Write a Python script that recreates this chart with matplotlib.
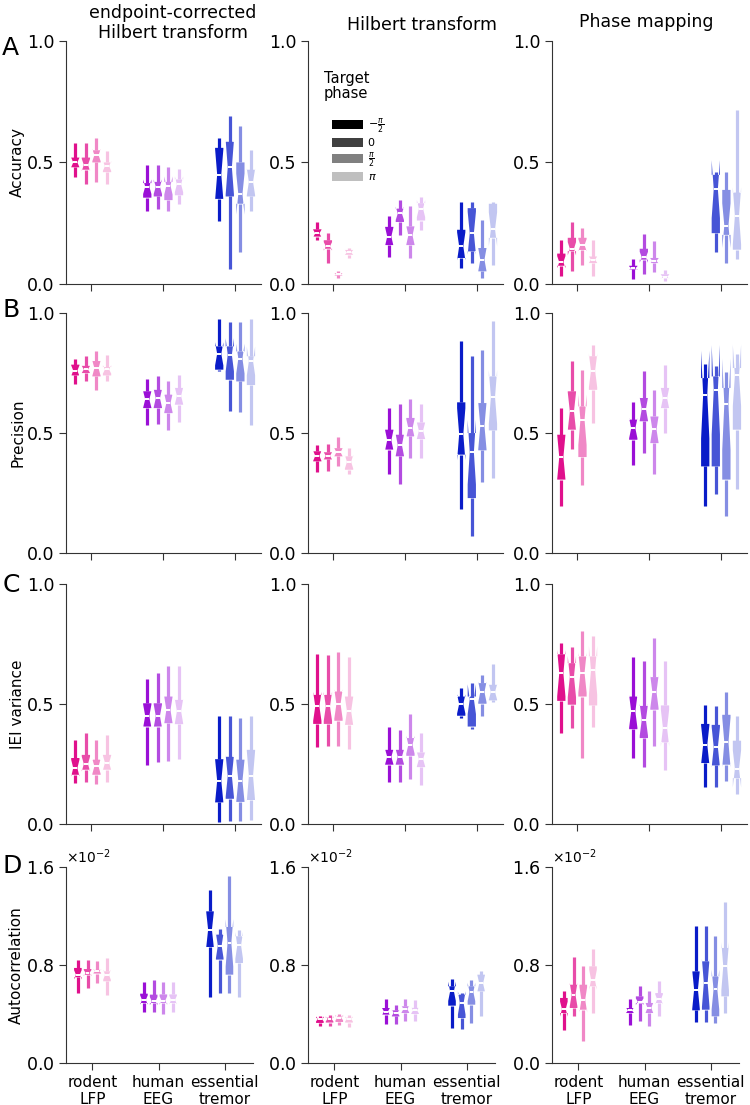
import numpy as np
import matplotlib
matplotlib.use("Agg")
import matplotlib.pyplot as plt
from matplotlib.patches import Patch
from matplotlib.ticker import ScalarFormatter

methods = ["endpoint-corrected\nHilbert transform", "Hilbert transform", "Phase mapping"]
metrics = ["Accuracy", "Precision", "IEI variance", "Autocorrelation"]
datasets = ["rodent\nLFP", "human\nEEG", "essential\ntremor"]
phase_labels = [r"$-\frac{\pi}{2}$", "0", r"$\frac{\pi}{2}$", r"$\pi$"]
base_colors = ["#E0108C", "#9A0FD6", "#0A1CC8"]
n_sessions = [10, 10, 10]   # sets the notch size (1.57 * IQR / sqrt(n))

# each row: whislo, q1, median, q3, whishi
# rows: rodent LFP x4 phases, human EEG x4, essential tremor x4 (None = no data)
acc_echt = [
    [0.44, 0.48, 0.50, 0.52, 0.58], [0.41, 0.47, 0.49, 0.52, 0.58],
    [0.42, 0.50, 0.53, 0.55, 0.60], [0.41, 0.46, 0.485, 0.50, 0.545],
    [0.30, 0.355, 0.40, 0.415, 0.49], [0.31, 0.36, 0.40, 0.42, 0.49],
    [0.30, 0.345, 0.405, 0.42, 0.48], [0.33, 0.365, 0.41, 0.43, 0.475],
    [0.26, 0.35, 0.45, 0.56, 0.60], [0.06, 0.36, 0.48, 0.585, 0.69],
    [0.13, 0.33, 0.37, 0.50, 0.65], [0.30, 0.36, 0.42, 0.47, 0.55],
]
acc_ht = [
    [0.18, 0.195, 0.208, 0.225, 0.253], [0.086, 0.145, 0.155, 0.18, 0.209],
    [0.025, 0.035, 0.04, 0.045, 0.052], [0.107, 0.12, 0.13, 0.14, 0.148],
    [0.111, 0.16, 0.195, 0.235, 0.28], [0.20, 0.255, 0.29, 0.31, 0.346],
    [0.107, 0.16, 0.20, 0.237, 0.319], [0.223, 0.261, 0.31, 0.332, 0.357],
    [0.066, 0.107, 0.155, 0.223, 0.339], [0.086, 0.134, 0.209, 0.312, 0.339],
    [0.025, 0.052, 0.10, 0.148, 0.264], [0.079, 0.19, 0.225, 0.33, 0.339],
]
acc_pm = [
    [0.034, 0.075, 0.09, 0.125, 0.182], [0.052, 0.135, 0.145, 0.19, 0.257],
    [0.079, 0.14, 0.16, 0.19, 0.23], [0.031, 0.086, 0.10, 0.113, 0.182],
    [0.022, 0.06, 0.065, 0.075, 0.103], [0.042, 0.10, 0.11, 0.145, 0.207],
    [0.048, 0.086, 0.095, 0.107, 0.175], [0.011, 0.025, 0.03, 0.04, 0.059],
    None, [0.13, 0.209, 0.39, 0.449, 0.462],
    [0.086, 0.202, 0.24, 0.387, 0.462], [0.103, 0.141, 0.28, 0.376, 0.715],
]
prec_echt = [
    [0.704, 0.74, 0.76, 0.785, 0.808], [0.715, 0.75, 0.765, 0.78, 0.819],
    [0.68, 0.736, 0.77, 0.80, 0.843], [0.715, 0.74, 0.765, 0.775, 0.826],
    [0.535, 0.604, 0.64, 0.674, 0.725], [0.539, 0.604, 0.645, 0.68, 0.736],
    [0.511, 0.583, 0.625, 0.66, 0.718], [0.544, 0.618, 0.655, 0.688, 0.74],
    [0.757, 0.764, 0.83, 0.861, 0.975], [0.59, 0.722, 0.826, 0.861, 0.961],
    [0.586, 0.715, 0.81, 0.84, 0.961], [0.535, 0.70, 0.80, 0.82, 0.975],
]
prec_ht = [
    [0.336, 0.382, 0.405, 0.424, 0.451], [0.34, 0.39, 0.405, 0.42, 0.456],
    [0.364, 0.403, 0.42, 0.437, 0.482], [0.329, 0.347, 0.38, 0.403, 0.437],
    [0.331, 0.431, 0.47, 0.514, 0.604], [0.289, 0.403, 0.45, 0.493, 0.622],
    [0.396, 0.486, 0.52, 0.563, 0.643], [0.396, 0.475, 0.51, 0.544, 0.622],
    [0.183, 0.41, 0.495, 0.628, 0.885], [0.069, 0.229, 0.42, 0.50, 0.822],
    [0.294, 0.428, 0.53, 0.625, 0.847], [0.313, 0.511, 0.65, 0.736, 0.965],
]
prec_pm = [
    [0.194, 0.306, 0.40, 0.493, 0.604], [0.433, 0.514, 0.59, 0.674, 0.801],
    [0.285, 0.40, 0.555, 0.611, 0.761], [0.542, 0.68, 0.76, 0.82, 0.868],
    [0.368, 0.472, 0.52, 0.556, 0.628], [0.417, 0.549, 0.60, 0.646, 0.757],
    [0.329, 0.458, 0.515, 0.569, 0.681], [0.50, 0.604, 0.645, 0.688, 0.785],
    [0.197, 0.361, 0.66, 0.729, 0.788], [0.246, 0.361, 0.68, 0.736, 0.781],
    [0.156, 0.306, 0.62, 0.688, 0.754], [0.267, 0.514, 0.74, 0.771, 0.831],
]
iei_echt = [
    [0.171, 0.205, 0.233, 0.275, 0.348], [0.173, 0.226, 0.25, 0.288, 0.379],
    [0.166, 0.205, 0.24, 0.268, 0.351], [0.173, 0.226, 0.255, 0.288, 0.372],
    [0.247, 0.406, 0.45, 0.503, 0.603], [0.257, 0.406, 0.45, 0.503, 0.628],
    [0.264, 0.42, 0.475, 0.531, 0.659], [0.27, 0.416, 0.47, 0.517, 0.659],
    [0.007, 0.09, 0.18, 0.27, 0.451], [0.011, 0.105, 0.20, 0.28, 0.451],
    [0.014, 0.092, 0.18, 0.268, 0.441], [0.018, 0.10, 0.20, 0.309, 0.448],
]
iei_ht = [
    [0.319, 0.417, 0.49, 0.538, 0.709], [0.323, 0.417, 0.49, 0.538, 0.705],
    [0.327, 0.43, 0.50, 0.552, 0.718], [0.313, 0.413, 0.47, 0.531, 0.695],
    [0.173, 0.247, 0.28, 0.309, 0.404], [0.173, 0.247, 0.28, 0.309, 0.393],
    [0.189, 0.284, 0.33, 0.358, 0.459], [0.164, 0.237, 0.27, 0.298, 0.379],
    [0.441, 0.451, 0.50, 0.531, 0.566], [0.395, 0.406, 0.52, 0.531, 0.589],
    [0.448, 0.501, 0.55, 0.587, 0.621], [0.51, 0.515, 0.55, 0.58, 0.667],
]
iei_pm = [
    [0.381, 0.513, 0.628, 0.707, 0.753], [0.398, 0.497, 0.614, 0.67, 0.736],
    [0.275, 0.531, 0.63, 0.698, 0.804], [0.404, 0.494, 0.64, 0.698, 0.784],
    [0.275, 0.395, 0.469, 0.531, 0.695], [0.237, 0.358, 0.434, 0.492, 0.68],
    [0.326, 0.476, 0.55, 0.612, 0.774], [0.226, 0.34, 0.40, 0.494, 0.68],
    [0.153, 0.254, 0.33, 0.417, 0.497], [0.153, 0.244, 0.32, 0.413, 0.49],
    [0.18, 0.247, 0.34, 0.455, 0.549], [0.125, 0.191, 0.23, 0.347, 0.451],
]
# autocorrelation values in units of 1e-2
auto_echt = [
    [0.571, 0.70, 0.72, 0.776, 0.838], [0.612, 0.72, 0.735, 0.767, 0.843],
    [0.653, 0.73, 0.75, 0.76, 0.83], [0.558, 0.667, 0.72, 0.748, 0.857],
    [0.414, 0.49, 0.515, 0.566, 0.658], [0.414, 0.49, 0.505, 0.558, 0.68],
    [0.403, 0.49, 0.51, 0.56, 0.658], [0.414, 0.49, 0.515, 0.56, 0.658],
    [0.539, 0.947, 1.088, 1.238, 1.41], [0.571, 0.844, 0.958, 1.048, 1.097],
    [0.571, 0.721, 0.98, 1.11, 1.529], [0.539, 0.816, 0.96, 1.034, 1.083],
]
auto_ht = [
    [0.305, 0.327, 0.36, 0.367, 0.386], [0.30, 0.33, 0.36, 0.37, 0.39],
    [0.31, 0.335, 0.37, 0.38, 0.403], [0.294, 0.33, 0.36, 0.37, 0.395],
    [0.321, 0.395, 0.42, 0.449, 0.522], [0.318, 0.38, 0.41, 0.43, 0.476],
    [0.34, 0.408, 0.44, 0.463, 0.522], [0.34, 0.40, 0.43, 0.45, 0.517],
    [0.286, 0.468, 0.585, 0.626, 0.686], [0.278, 0.367, 0.49, 0.558, 0.571],
    [0.327, 0.476, 0.58, 0.626, 0.68], [0.381, 0.585, 0.65, 0.721, 0.748],
]
auto_pm = [
    [0.272, 0.408, 0.44, 0.531, 0.585], [0.381, 0.449, 0.558, 0.639, 0.865],
    [0.177, 0.435, 0.517, 0.639, 0.789], [0.408, 0.626, 0.68, 0.789, 0.931],
    [0.313, 0.408, 0.43, 0.449, 0.522], [0.34, 0.49, 0.50, 0.544, 0.626],
    [0.299, 0.408, 0.45, 0.49, 0.585], [0.381, 0.49, 0.52, 0.571, 0.667],
    [0.332, 0.43, 0.599, 0.748, 1.121], [0.332, 0.435, 0.653, 0.83, 1.121],
    [0.327, 0.381, 0.60, 0.707, 1.034], [0.408, 0.544, 0.789, 0.939, 1.311],
]

panels = [
    [acc_echt, acc_ht, acc_pm],
    [prec_echt, prec_ht, prec_pm],
    [iei_echt, iei_ht, iei_pm],
    [auto_echt, auto_ht, auto_pm],
]
shade = [0.0, 0.25, 0.5, 0.75]   # mix with white, one per target phase


def lighten(color, f):
    rgb = np.array(matplotlib.colors.to_rgb(color))
    return tuple(rgb + (1 - rgb) * f)


fig = plt.figure(figsize=(7.5, 11.05), dpi=100)
lefts = [66 / 750, 308 / 750, 552 / 750]
rows = [(0.743, 0.22), (0.4995, 0.2172), (0.2543, 0.2172), (0.038, 0.1774)]
offsets = np.array([-1.5, -0.5, 0.5, 1.5]) * 0.147

for r in range(4):
    scale = 1e-2 if r == 3 else 1.0
    for c in range(3):
        if r == 3:
            ax = fig.add_axes([lefts[c], rows[r][0], 187 / 750, rows[r][1]])
            ax.set_xlim(-0.40, 2.43)
        else:
            ax = fig.add_axes([lefts[c], rows[r][0], 195 / 750, rows[r][1]])
            ax.set_xlim(-0.35, 2.36)
        data = panels[r][c]
        stats, pos, cols = [], [], []
        for g in range(3):
            for p in range(4):
                row = data[g * 4 + p]
                if row is None:
                    continue
                lo, q1, med, q3, hi = [v * scale for v in row]
                ci = 1.57 * (q3 - q1) / np.sqrt(n_sessions[g])
                stats.append(dict(whislo=lo, q1=q1, med=med, q3=q3, whishi=hi,
                                  cilo=med - ci, cihi=med + ci, fliers=[]))
                pos.append(g + offsets[p])
                cols.append(lighten(base_colors[g], shade[p]))
        bp = ax.bxp(stats, positions=pos, widths=0.115, patch_artist=True,
                    shownotches=True, showcaps=False, showfliers=False,
                    boxprops=dict(linewidth=0),
                    whiskerprops=dict(linewidth=2.3, solid_capstyle="butt"),
                    medianprops=dict(color="white", linewidth=1.4))
        for i, col in enumerate(cols):
            bp["boxes"][i].set_facecolor(col)
            bp["boxes"][i].set_edgecolor(col)
            bp["whiskers"][2 * i].set_color(col)
            bp["whiskers"][2 * i + 1].set_color(col)

        ax.set_xticks([0, 1, 2])
        for s in ["top", "right"]:
            ax.spines[s].set_visible(False)
        for s in ["left", "bottom"]:
            ax.spines[s].set_color("#333333")
        ax.tick_params(axis="y", labelsize=12.5, length=5, color="#333333")
        ax.tick_params(axis="x", labelsize=11, length=5, color="#333333")
        if r == 3:
            ax.set_ylim(0, 0.016)
            ax.set_yticks([0, 0.008, 0.016])
            fmt = ScalarFormatter(useMathText=True)
            fmt.set_powerlimits((-1, 1))
            ax.yaxis.set_major_formatter(fmt)
            ax.yaxis.get_offset_text().set_fontsize(10)
            ax.set_xticklabels(datasets)
        else:
            ax.set_ylim(0, 1)
            ax.set_yticks([0, 0.5, 1.0])
            ax.set_yticklabels(["0.0", "0.5", "1.0"])
            ax.set_xticklabels([])
        if c == 0:
            ax.set_ylabel(metrics[r], fontsize=11, labelpad=1)

        if r == 0 and c == 1:
            ax.text(0.082, 0.875, "Target\nphase", transform=ax.transAxes,
                    ha="left", va="top", fontsize=10.5, linespacing=1.0)
            handles = [Patch(facecolor=lighten("black", f), edgecolor="none") for f in shade]
            ax.legend(handles, phase_labels, loc="upper left",
                      bbox_to_anchor=(0.123, 0.69), frameon=False, fontsize=8,
                      handlelength=2.8, handleheight=0.9, labelspacing=0.22,
                      handletextpad=0.4, borderpad=0, borderaxespad=0)

# column titles
fig.text(173 / 750, 1 - 18 / 1105, "endpoint-corrected", ha="center", va="baseline", fontsize=12.5)
fig.text(173 / 750, 1 - 38 / 1105, "Hilbert transform", ha="center", va="baseline", fontsize=12.5)
fig.text(422 / 750, 1 - 30 / 1105, methods[1], ha="center", va="baseline", fontsize=12.5)
fig.text(646 / 750, 1 - 27 / 1105, methods[2], ha="center", va="baseline", fontsize=12.5)

# panel letters
for letter, yb in zip("ABCD", [55, 317, 592, 873]):
    fig.text(0.003, 1 - yb / 1105, letter, ha="left", va="baseline", fontsize=18)

fig.savefig("out.png", dpi=100)
